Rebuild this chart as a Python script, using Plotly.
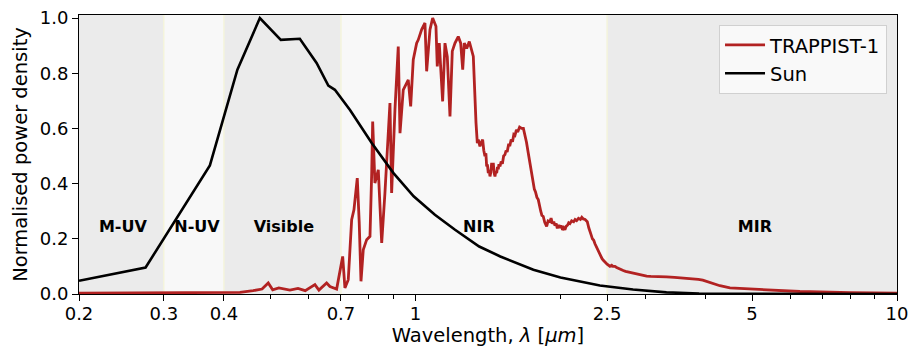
import numpy as np
import plotly.graph_objects as go

# Spectral bands (micrometres)
band_names = ["M-UV", "N-UV", "Visible", "NIR", "MIR"]
band_edges = [0.2, 0.3, 0.4, 0.7, 2.5, 10.0]
band_fill = ["#ebebeb", "#f8f8f8", "#ebebeb", "#f8f8f8", "#ebebeb"]
band_label_x = [0.2467, 0.3516, 0.5328, 1.354, 5.07]
band_label_y = 0.24

# Solar spectrum, normalised
sun_wl = [0.2, 0.275, 0.374, 0.4266, 0.475, 0.525, 0.575, 0.623, 0.659, 0.68,
          0.731, 0.811, 0.9, 0.991, 1.097, 1.208, 1.356, 1.5, 1.757, 2.0,
          2.415, 2.83, 3.32, 3.88, 5.0, 7.0, 10.0]
sun_flux = [0.048, 0.096, 0.466, 0.813, 1.0, 0.921, 0.925, 0.837, 0.755, 0.74,
            0.667, 0.547, 0.438, 0.354, 0.287, 0.233, 0.172, 0.136, 0.088, 0.06,
            0.031, 0.016, 0.006, 0.002, 0.001, 0.0, 0.0]

# TRAPPIST-1 spectrum, normalised
trap_wl = [0.2, 0.3566, 0.4318, 0.46, 0.48, 0.4944, 0.505, 0.52, 0.5484, 0.57,
           0.59, 0.6181, 0.63, 0.6536, 0.6641, 0.6857, 0.7058, 0.7134, 0.7249, 0.7368,
           0.7449, 0.7568, 0.764, 0.7704, 0.7788, 0.7916, 0.8043, 0.8109, 0.8147, 0.8234,
           0.8369, 0.8506, 0.8639, 0.8849, 0.892, 0.9063, 0.9207, 0.9284, 0.943, 0.9658,
           0.977, 0.9892, 1.0053, 1.0132, 1.0297, 1.0461, 1.0546, 1.0715, 1.0854, 1.1026,
           1.1095, 1.1203, 1.1384, 1.1512, 1.164, 1.1791, 1.1922, 1.2077, 1.2268, 1.241,
           1.2531, 1.2626, 1.2773, 1.2933, 1.3083, 1.3183,
           1.3354, 1.34, 1.3437, 1.35, 1.3608, 1.37, 1.3785, 1.386, 1.3939, 1.40,
           1.4052, 1.41, 1.4162, 1.422, 1.4277, 1.433, 1.4393, 1.445, 1.4503, 1.456,
           1.4622, 1.468, 1.4741, 1.48, 1.4854, 1.49, 1.4977, 1.506, 1.515, 1.524,
           1.5337, 1.542, 1.55, 1.56, 1.5709, 1.58, 1.59, 1.6, 1.6089, 1.62,
           1.63, 1.645, 1.6612, 1.675, 1.6878, 1.70, 1.7145, 1.725, 1.735, 1.745,
           1.756, 1.765, 1.775, 1.787, 1.7985, 1.81, 1.82, 1.83, 1.8421, 1.855,
           1.872, 1.885, 1.902, 1.912, 1.925, 1.937, 1.9481, 1.96, 1.97, 1.982,
           1.9953, 2.008, 2.02, 2.032, 2.0432, 2.055, 2.07, 2.08, 2.0928, 2.11,
           2.13, 2.145, 2.1609, 2.18, 2.2, 2.215, 2.2307, 2.25, 2.2737, 2.29,
           2.3031, 2.315, 2.33, 2.345, 2.3587, 2.375, 2.39, 2.403, 2.4154, 2.43,
           2.44, 2.455, 2.4738, 2.5, 2.5337, 2.555, 2.57, 2.595, 2.616, 2.64,
           2.66, 2.68, 2.7, 2.73, 2.76, 2.8, 2.8326, 2.88, 2.92, 2.97,
           3.02, 3.08, 3.15, 3.23, 3.3227, 3.45, 3.5975, 3.72, 3.8663, 3.95,
           4.0243, 4.15, 4.2876, 4.4978, 4.95, 5.5335, 6.2863, 8.0, 10.0]
trap_flux = [0.003, 0.004, 0.006, 0.012, 0.018, 0.04, 0.015, 0.022, 0.014, 0.02,
             0.012, 0.034, 0.014, 0.04, 0.027, 0.018, 0.136, 0.022, 0.052, 0.269,
             0.305, 0.42, 0.257, 0.046, 0.16, 0.197, 0.209, 0.438, 0.625, 0.402,
             0.45, 0.185, 0.366, 0.692, 0.366, 0.668, 0.897, 0.583, 0.74, 0.776,
             0.68, 0.849, 0.909, 0.921, 0.958, 0.982, 0.807, 0.958, 1.0, 0.97,
             0.825, 0.909, 0.698, 0.909, 0.86, 0.643, 0.88, 0.909, 0.933, 0.909,
             0.813, 0.909, 0.89, 0.915, 0.88, 0.861,
             0.62, 0.58, 0.547, 0.56, 0.535, 0.55, 0.559, 0.52, 0.499, 0.51,
             0.462, 0.47, 0.438, 0.45, 0.426, 0.44, 0.475, 0.455, 0.475, 0.44,
             0.426, 0.445, 0.438, 0.46, 0.452, 0.47, 0.462, 0.48, 0.472, 0.5,
             0.505, 0.52, 0.515, 0.54, 0.54, 0.56, 0.552, 0.578, 0.575, 0.595,
             0.587, 0.605, 0.6, 0.6, 0.578, 0.55, 0.511, 0.48, 0.455, 0.42,
             0.395, 0.38, 0.37, 0.35, 0.342, 0.31, 0.3, 0.285, 0.281, 0.26,
             0.245, 0.265, 0.262, 0.275, 0.255, 0.262, 0.248, 0.255, 0.238, 0.25,
             0.24, 0.248, 0.232, 0.24, 0.233, 0.245, 0.25, 0.258, 0.255, 0.265,
             0.262, 0.27, 0.266, 0.274, 0.27, 0.278, 0.272, 0.27, 0.262, 0.24,
             0.221, 0.215, 0.2, 0.195, 0.182, 0.17, 0.16, 0.155, 0.145, 0.135,
             0.128, 0.122, 0.115, 0.108, 0.1, 0.104, 0.1, 0.1, 0.096, 0.092,
             0.09, 0.088, 0.085, 0.082, 0.08, 0.078, 0.075, 0.072, 0.07, 0.067,
             0.065, 0.064, 0.064, 0.062, 0.062, 0.06, 0.058, 0.056, 0.053, 0.05,
             0.045, 0.037, 0.03, 0.022, 0.018, 0.012, 0.009, 0.005, 0.003]

x_tick_vals = [0.2, 0.3, 0.4, 0.7, 1, 2.5, 5, 10]
x_tick_text = ["0.2", "0.3", "0.4", "0.7", "1", "2.5", "5", "10"]
x_minor_vals = [0.5, 0.6, 0.8, 0.9, 2, 3, 4, 6, 7, 8, 9]
y_tick_vals = [0.0, 0.2, 0.4, 0.6, 0.8, 1.0]
y_top = 1.011

FONT = "DejaVu Sans"
FS_TICK = 18
FS_TITLE = 19.5
fig = go.Figure()

# shaded spectral regions
for i, name in enumerate(band_names):
    x0, x1 = band_edges[i], band_edges[i + 1]
    fig.add_trace(go.Scatter(
        x=[x0, x1, x1, x0, x0], y=[0, 0, y_top, y_top, 0],
        fill="toself", fillcolor=band_fill[i], mode="none",
        showlegend=False, hoverinfo="skip"))

# faint region borders
for edge in band_edges[1:-1]:
    fig.add_trace(go.Scatter(
        x=[edge, edge], y=[0, y_top], mode="lines",
        line=dict(color="#f4f4dc", width=1.5),
        showlegend=False, hoverinfo="skip"))

fig.add_trace(go.Scatter(
    x=trap_wl, y=trap_flux, mode="lines", name="TRAPPIST-1",
    line=dict(color="#b22222", width=2.8)))
fig.add_trace(go.Scatter(
    x=sun_wl, y=sun_flux, mode="lines", name="Sun",
    line=dict(color="black", width=2.6)))

# region names
fig.add_trace(go.Scatter(
    x=band_label_x, y=[band_label_y] * len(band_names), mode="text",
    text=[f"<b>{n}</b>" for n in band_names],
    textfont=dict(family=FONT, size=16, color="black"),
    showlegend=False, hoverinfo="skip"))

fig.update_layout(
    width=909, height=349,
    margin=dict(l=79, r=12, t=15, b=55),
    paper_bgcolor="white", plot_bgcolor="white",
    font=dict(family=FONT, size=FS_TICK, color="black"),
    showlegend=True,
    legend=dict(
        x=0.9878, y=0.965, xanchor="right", yanchor="top",
        bgcolor="rgba(250,250,250,0.95)", bordercolor="#d0d0d0", borderwidth=1,
        font=dict(family=FONT, size=19.5), itemwidth=40,
        traceorder="normal"),
)

fig.update_xaxes(
    type="log", range=[np.log10(0.2), np.log10(10)], automargin=False,
    tickmode="array", tickvals=x_tick_vals, ticktext=x_tick_text,
    ticks="outside", ticklen=6, tickwidth=1, tickcolor="black",
    ticklabelstandoff=-3,
    minor=dict(tickmode="array", tickvals=x_minor_vals, ticks="outside",
               ticklen=3.5, tickwidth=1, tickcolor="black", showgrid=False),
    showgrid=False, zeroline=False,
    showline=True, linecolor="black", linewidth=1, mirror=True,
    title=dict(text="Wavelength, <i>λ</i> [<i>μm</i>]", font=dict(size=FS_TITLE), standoff=4),
    tickfont=dict(size=FS_TICK),
)
fig.update_yaxes(
    range=[0, y_top], automargin=False,
    tickmode="array", tickvals=y_tick_vals,
    ticktext=[f"{v:.1f}" for v in y_tick_vals],
    ticks="outside", ticklen=6, tickwidth=1, tickcolor="black",
    showgrid=False, zeroline=False,
    showline=True, linecolor="black", linewidth=1, mirror=True,
    title=dict(text="Normalised power density", font=dict(size=FS_TITLE), standoff=6),
    tickfont=dict(size=FS_TICK),
)

fig.write_html("out.html")
